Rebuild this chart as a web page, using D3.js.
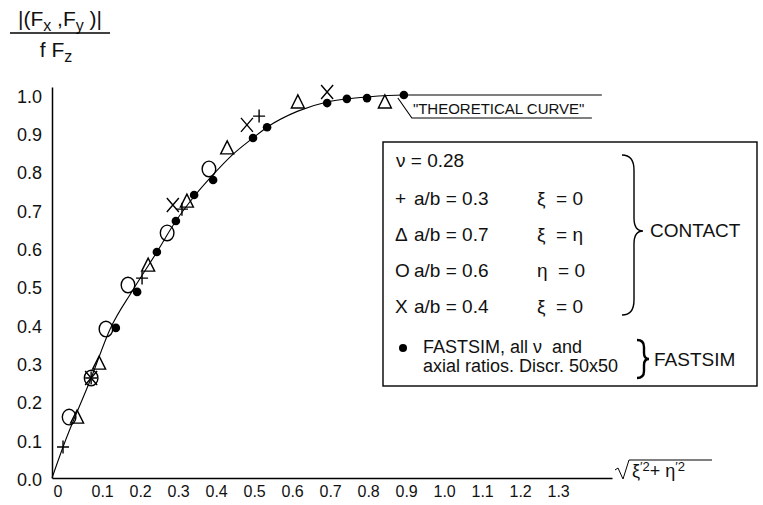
<!DOCTYPE html>
<html>
<head>
<meta charset="utf-8">
<script src="https://cdn.jsdelivr.net/npm/d3@7"></script>
<style>
  body { margin: 0; background: #fff; }
  svg { display: block; font-family: "Liberation Sans", Arial, sans-serif; }
  .mark { fill: none; stroke: #000; stroke-width: 1.4; }
</style>
</head>
<body>
<div id="chart"></div>
<script>
/* DATA */
const xTicks = [0, 0.1, 0.2, 0.3, 0.4, 0.5, 0.6, 0.7, 0.8, 0.9, 1.0, 1.1, 1.2, 1.3]
const xTickLabels = ["0", "0.1", "0.2", "0.3", "0.4", "0.5", "0.6", "0.7", "0.8", "0.9", "1.0", "1.1", "1.2", "1.3"]
const yTicks = [0, 0.1, 0.2, 0.3, 0.4, 0.5, 0.6, 0.7, 0.8, 0.9, 1.0]
const yTickLabels = ["0.0", "0.1", "0.2", "0.3", "0.4", "0.5", "0.6", "0.7", "0.8", "0.9", "1.0"]

// theoretical curve
const theoryX = [0, 0.029, 0.103, 0.153, 0.213, 0.276, 0.326, 0.374, 0.424, 0.476, 0.529, 0.566, 0.647, 0.724, 0.776, 0.829, 0.926, 1.447]
const theoryY = [0, 0.081, 0.261, 0.389, 0.491, 0.590, 0.671, 0.735, 0.792, 0.845, 0.888, 0.916, 0.958, 0.982, 0.990, 0.995, 1.0, 1.0]

// CONTACT a/b = 0.3 (+)
const plusX = [0.029, 0.103, 0.237, 0.342, 0.545]
const plusY = [0.081, 0.261, 0.522, 0.702, 0.945]
// CONTACT a/b = 0.7 (triangle)
const triX = [0.066, 0.124, 0.253, 0.355, 0.461, 0.647, 0.876]
const triY = [0.159, 0.300, 0.556, 0.723, 0.862, 0.982, 0.982]
// CONTACT a/b = 0.6 (O)
const circX = [0.045, 0.103, 0.142, 0.200, 0.303, 0.413]
const circY = [0.159, 0.261, 0.389, 0.504, 0.640, 0.807]
// CONTACT a/b = 0.4 (X)
const crossX = [0.103, 0.318, 0.513, 0.724]
const crossY = [0.261, 0.713, 0.922, 1.008]
// FASTSIM (dots)
const dotX = [0.168, 0.224, 0.276, 0.326, 0.374, 0.424, 0.529, 0.566, 0.724, 0.776, 0.829, 0.926]
const dotY = [0.392, 0.486, 0.590, 0.671, 0.739, 0.778, 0.888, 0.916, 0.979, 0.990, 0.992, 1.000]

const zip = (xs, ys) => xs.map((d, i) => ({ x: d, y: ys[i] }))

const width = 763
const height = 505

/* SVG ELEMENT */
const svg = d3.select("#chart")
    .append("svg")
    .attr("width", width)
    .attr("height", height)

/* SCALES */
const x = d3.scaleLinear().domain([0, 1.4737]).range([52, 612])
const y = d3.scaleLinear().domain([0, 1.021]).range([478, 87])

/* X AXIS */
const xAxis = svg.append("g")
    .attr("transform", `translate(0, ${y(0)})`)
    .call(
        d3.axisBottom(x)
        .tickValues(xTicks)
        .tickSize(0)
        .tickSizeOuter(0)
        .tickFormat((d, i) => xTickLabels[i])
    )
xAxis.select(".domain").attr("stroke-width", 1.5)
xAxis.selectAll("text")
    .attr("text-anchor", "start")
    .attr("x", 1)
    .attr("y", 19)
    .attr("dy", 0)
    .style("font-size", "16px")
    .style("font-family", "Liberation Sans, Arial, sans-serif")
    .attr("fill", "#111")

/* Y AXIS */
const yAxis = svg.append("g")
    .attr("transform", `translate(${x(0)}, 0)`)
    .call(
        d3.axisLeft(y)
        .tickValues(yTicks)
        .tickSize(0)
        .tickSizeOuter(0)
        .tickFormat((d, i) => yTickLabels[i])
    )
yAxis.select(".domain").attr("stroke-width", 1.5)
yAxis.selectAll("text")
    .attr("x", -10)
    .attr("y", 1)
    .attr("dy", "0.35em")
    .style("font-size", "18px")
    .style("font-family", "Liberation Sans, Arial, sans-serif")
    .attr("fill", "#111")

/* Y TITLE (fraction) */
const yTitle = svg.append("g").style("font-size", "21px").attr("fill", "#111")
const num = yTitle.append("text").attr("x", 60).attr("y", 26).attr("text-anchor", "middle")
num.append("tspan").text("|(F")
num.append("tspan").text("x").attr("dy", 5).style("font-size", "16px")
num.append("tspan").text(" ,F").attr("dy", -5)
num.append("tspan").text("y").attr("dy", 5).style("font-size", "16px")
num.append("tspan").text(" )|").attr("dy", -5)
yTitle.append("line")
    .attr("x1", 10).attr("x2", 110)
    .attr("y1", 33).attr("y2", 33)
    .attr("stroke", "#000").attr("stroke-width", 1.3)
const den = yTitle.append("text").attr("x", 56).attr("y", 57).attr("text-anchor", "middle")
den.append("tspan").text("f F")
den.append("tspan").text("z").attr("dy", 5).style("font-size", "16px")

/* X TITLE (square root) */
const xTitle = svg.append("g").attr("fill", "#111")
xTitle.append("path")
    .attr("d", "M615,470 L618,468 L623,479 L629,460 L712,460")
    .attr("fill", "none").attr("stroke", "#000").attr("stroke-width", 1)
const xt = xTitle.append("text").attr("x", 632).attr("y", 477).style("font-size", "18px")
xt.append("tspan").text("ξ")
xt.append("tspan").text("′2").attr("dy", -6).style("font-size", "13px")
xt.append("tspan").text("+ η").attr("dy", 6)
xt.append("tspan").text("′2").attr("dy", -6).style("font-size", "13px")

/* THEORETICAL CURVE */
const line = d3.line()
    .x(d => x(d.x))
    .y(d => y(d.y))
    .curve(d3.curveMonotoneX)
svg.append("path")
    .datum(zip(theoryX, theoryY))
    .attr("d", line)
    .attr("fill", "none")
    .attr("stroke", "#000")
    .attr("stroke-width", 1.1)

// leader to the label
const lx = x(0.926), ly = y(1.0)
svg.append("path")
    .attr("d", `M${lx - 6},${ly + 3} L${lx + 8},${ly + 23} L${lx + 188},${ly + 23}`)
    .attr("fill", "none").attr("stroke", "#000").attr("stroke-width", 1.1)
svg.append("text")
    .attr("x", lx + 9).attr("y", ly + 19)
    .style("font-size", "15px").attr("fill", "#111")
    .text("\"THEORETICAL CURVE\"")

/* MARKERS */
const marks = svg.append("g")
marks.selectAll(".plus")
    .data(zip(plusX, plusY)).enter()
    .append("path").attr("class", "mark")
    .attr("transform", d => `translate(${x(d.x)},${y(d.y)})`)
    .attr("d", "M-6,0H6M0,-6.5V6.5")
marks.selectAll(".tri")
    .data(zip(triX, triY)).enter()
    .append("path").attr("class", "mark")
    .attr("transform", d => `translate(${x(d.x)},${y(d.y)})`)
    .attr("d", "M0,-7L6.5,6H-6.5Z")
marks.selectAll(".circ")
    .data(zip(circX, circY)).enter()
    .append("ellipse").attr("class", "mark")
    .attr("cx", d => x(d.x)).attr("cy", d => y(d.y))
    .attr("rx", 6.8).attr("ry", 7.8)
marks.selectAll(".cross")
    .data(zip(crossX, crossY)).enter()
    .append("path").attr("class", "mark")
    .attr("transform", d => `translate(${x(d.x)},${y(d.y)})`)
    .attr("d", "M-6,-7L6,7M6,-7L-6,7")
marks.selectAll(".dot")
    .data(zip(dotX, dotY)).enter()
    .append("circle")
    .attr("cx", d => x(d.x)).attr("cy", d => y(d.y))
    .attr("r", 4.3)
    .attr("fill", "#000")

/* LEGEND */
const legend = svg.append("g").style("font-size", "19px").attr("fill", "#111")
legend.append("rect")
    .attr("x", 383).attr("y", 142)
    .attr("width", 374).attr("height", 244)
    .attr("fill", "none").attr("stroke", "#000").attr("stroke-width", 1.4)

legend.append("text").attr("x", 396).attr("y", 167).text("ν = 0.28")

const rows = [
    { glyph: "+", ratio: "a/b = 0.3", cond: "ξ  = 0", y: 205 },
    { glyph: "Δ", ratio: "a/b = 0.7", cond: "ξ  = η", y: 241 },
    { glyph: "O", ratio: "a/b = 0.6", cond: "η  = 0", y: 277 },
    { glyph: "X", ratio: "a/b = 0.4", cond: "ξ  = 0", y: 313 }
]
rows.forEach(r => {
    legend.append("text").attr("x", 395).attr("y", r.y).style("font-size", "19px").text(r.glyph)
    legend.append("text").attr("x", 414).attr("y", r.y).text(r.ratio)
    legend.append("text").attr("x", 537).attr("y", r.y).style("white-space", "pre").attr("xml:space", "preserve").text(r.cond)
})

// contact brace
legend.append("path")
    .attr("d", "M622,155 Q634,155 634,170 L634,218 Q634,231 643,231 Q634,231 634,244 L634,300 Q634,315 622,315")
    .attr("fill", "none").attr("stroke", "#000").attr("stroke-width", 1.4)
legend.append("text").attr("x", 650).attr("y", 237).text("CONTACT")

// fastsim row
legend.append("circle").attr("cx", 403).attr("cy", 348).attr("r", 4).attr("fill", "#000")
const fs = legend.append("text").attr("y", 353).style("font-size", "18px")
    .style("white-space", "pre").attr("xml:space", "preserve")
fs.append("tspan").attr("x", 423).text("FASTSIM, all ν  and")
fs.append("tspan").attr("x", 423).attr("dy", 19).text("axial ratios. Discr. 50x50")
legend.append("path")
    .attr("d", "M637,340 Q644,340 644,347 L644,353 Q644,359 649,359 Q644,359 644,365 L644,371 Q644,378 637,378")
    .attr("fill", "none").attr("stroke", "#000").attr("stroke-width", 2.4)
legend.append("text").attr("x", 654).attr("y", 366).text("FASTSIM")
</script>
</body>
</html>
